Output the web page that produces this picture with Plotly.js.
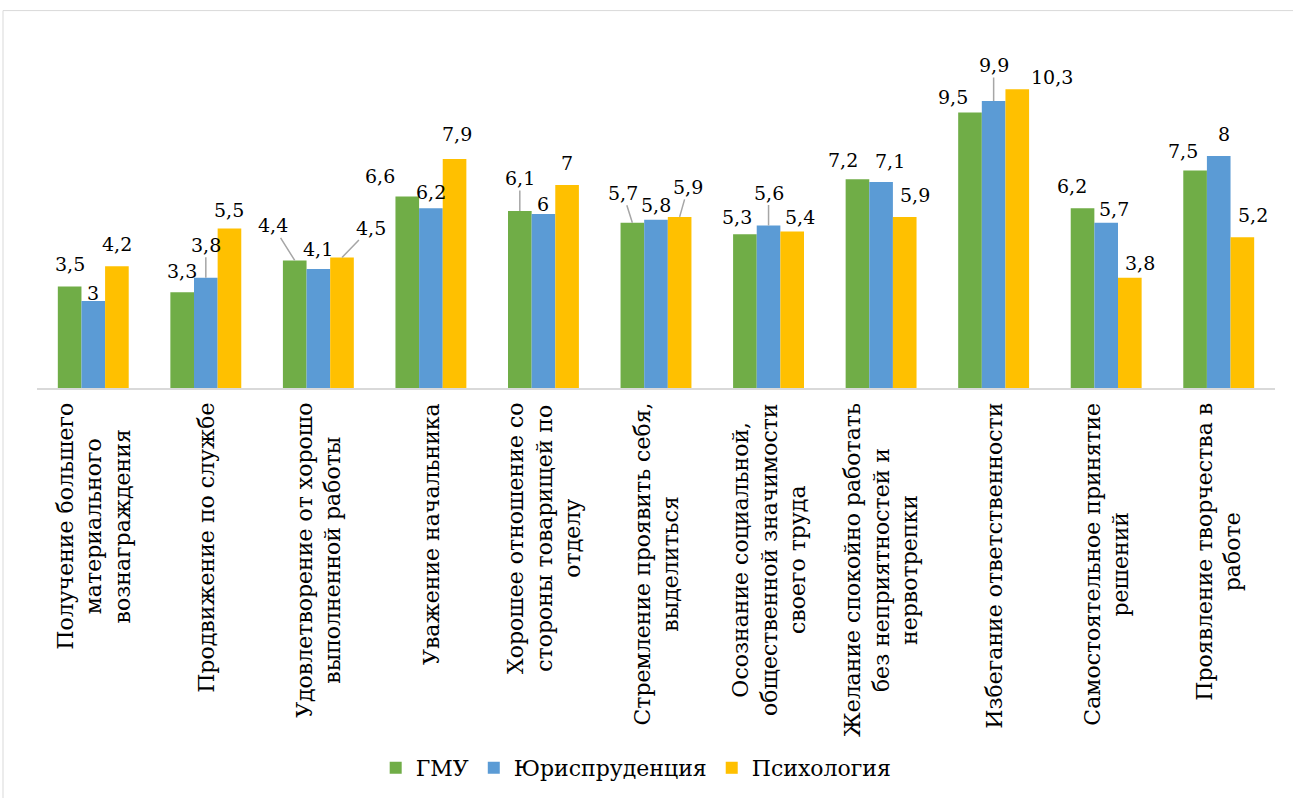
<!DOCTYPE html>
<html>
<head>
<meta charset="utf-8">
<script src="https://cdn.plot.ly/plotly-3.0.1.min.js"></script>
<style>
  html, body { margin: 0; padding: 0; background: #fff; }
  #chart { width: 1293px; height: 798px; }
</style>
</head>
<body>
<div id="chart"></div>
<script>
// ---- data ----
const categories = [
  "Получение большего материального вознаграждения",
  "Продвижение по службе",
  "Удовлетворение от хорошо выполненной работы",
  "Уважение начальника",
  "Хорошее отношение со стороны товарищей по отделу",
  "Стремление проявить себя, выделиться",
  "Осознание социальной, общественной значимости своего труда",
  "Желание спокойно работать без неприятностей и нервотрепки",
  "Избегание ответственности",
  "Самостоятельное принятие решений",
  "Проявление творчества в работе"
];
const tickLabels = [
  "Получение большего<br>материального<br>вознаграждения",
  "Продвижение по службе",
  "Удовлетворение от хорошо<br>выполненной работы",
  "Уважение начальника",
  "Хорошее отношение со<br>стороны товарищей по<br>отделу",
  "Стремление проявить себя,<br>выделиться",
  "Осознание социальной,<br>общественной значимости<br>своего труда",
  "Желание спокойно работать<br>без неприятностей и<br>нервотрепки",
  "Избегание ответственности",
  "Самостоятельное принятие<br>решений",
  "Проявление творчества в<br>работе"
];
const seriesNames = ["ГМУ", "Юриспруденция", "Психология"];
const gmu = [3.5, 3.3, 4.4, 6.6, 6.1, 5.7, 5.3, 7.2, 9.5, 6.2, 7.5];
const jur = [3, 3.8, 4.1, 6.2, 6, 5.8, 5.6, 7.1, 9.9, 5.7, 8];
const psy = [4.2, 5.5, 4.5, 7.9, 7, 5.9, 5.4, 5.9, 10.3, 3.8, 5.2];

// ---- styling / layout (not data) ----
const colors = ["#70AD47", "#5B9BD5", "#FFC000"];
const FONT = "DejaVu Serif";
const M = { l: 37, r: 18, t: 40, b: 409 };
const W = 1293, H = 798;
const bargap = 0.37;
const plotW = W - M.l - M.r;
const plotH = H - M.t - M.b;
const barW = (1 - bargap) / 3 * (plotW / categories.length);

// data-label placement offsets [dx, dy, leader] in px, relative to bar top centre
const labelOffsets = [
  [[0,-23,0],[0,-21,0],[-22,-35,1],[-27,-21,0],[0,-33,1],[-9.5,-30,1],[-8,-17,0],[-14.6,-19,0],[-17,-16,0],[-10.7,-22,0],[-12,-20,0]],
  [[0,-8,0],[0,-33,1],[0,-20,0],[0,-16,0],[0,-10,0],[0,-15,0],[0,-33,1],[9,-21.5,0],[0,-36,1],[8,-14,0],[5,-22,0]],
  [[0,-22,0],[0,-19,0],[29,-30,1],[2,-25,0],[0,-22,0],[8.5,-30,1],[8,-14,0],[10,-22,0],[35,-12.5,0],[10,-14.5,0],[11,-22,0]]
];

const series = [gmu, jur, psy];
const traces = series.map((vals, s) => ({
  type: "bar",
  name: seriesNames[s],
  x: categories,
  y: vals,
  marker: { color: colors[s], line: { width: 0 } },
  hoverinfo: "x+y+name"
}));

const fmt = v => String(v).replace(".", ",");
const annotations = [];

series.forEach((vals, s) => {
  const barShift = (s - 1) * barW;
  vals.forEach((v, i) => {
    const [dx, dy, leader] = labelOffsets[s][i];
    if (leader) {
      annotations.push({
        x: categories[i], y: v, xref: "x", yref: "y",
        xshift: barShift,
        text: fmt(v),
        showarrow: true, arrowhead: 0, arrowwidth: 1.5, arrowcolor: "#A6A6A6",
        standoff: 0, startstandoff: 0,
        ax: dx, ay: dy,
        font: { family: FONT, size: 19, color: "#000" }
      });
    } else {
      annotations.push({
        x: categories[i], y: v, xref: "x", yref: "y",
        xshift: barShift + dx, yshift: -dy,
        xanchor: "center", yanchor: "middle",
        text: fmt(v), showarrow: false,
        font: { family: FONT, size: 19, color: "#000" }
      });
    }
  });
});

// category labels (rotated, centre-aligned lines)
categories.forEach((c, i) => {
  annotations.push({
    x: c, xref: "x", y: 0, yref: "paper",
    yanchor: "top", xanchor: "center", yshift: -13,
    text: tickLabels[i], textangle: -90, align: "center",
    showarrow: false,
    font: { family: FONT, size: 22, color: "#000" }
  });
});

const layout = {
  width: W, height: H,
  margin: M,
  paper_bgcolor: "#fff", plot_bgcolor: "#fff",
  barmode: "group", bargap: bargap, bargroupgap: 0,
  font: { family: FONT, color: "#000" },
  xaxis: {
    type: "category", range: [-0.5, categories.length - 0.5],
    showticklabels: false, ticks: "", showgrid: false, zeroline: false,
    showline: true, linecolor: "#D9D9D9", linewidth: 2, fixedrange: true
  },
  yaxis: {
    range: [0, 12], visible: false, showgrid: false, zeroline: false, fixedrange: true
  },
  showlegend: true,
  legend: {
    orientation: "h", x: 0.484, xanchor: "center",
    y: (M.b - (H - 768)) / -plotH, yanchor: "middle",
    font: { family: FONT, size: 22, color: "#000" },
    itemwidth: 30, traceorder: "normal", bgcolor: "rgba(0,0,0,0)"
  },
  annotations: annotations,
  shapes: [{
    type: "rect", xref: "paper", yref: "paper",
    x0: (3 - M.l) / plotW, x1: (W + 10 - M.l) / plotW,
    y0: -(H + 10 - M.t - plotH) / plotH, y1: (M.t + plotH - 10.5) / plotH,
    line: { color: "#D9D9D9", width: 1 }, fillcolor: "rgba(0,0,0,0)", layer: "below"
  }]
};

Plotly.newPlot("chart", traces, layout, { displayModeBar: false, staticPlot: true });
</script>
</body>
</html>
